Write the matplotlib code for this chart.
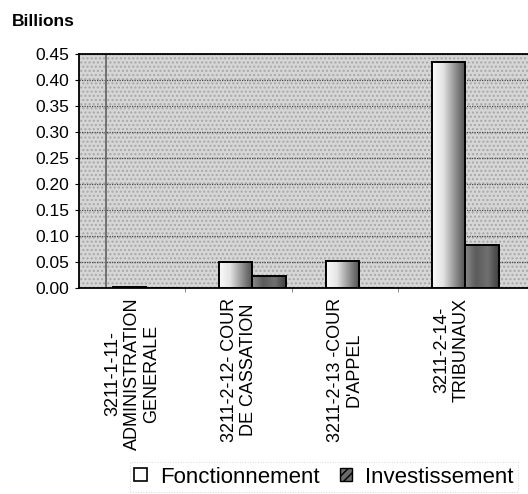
import matplotlib
matplotlib.use("Agg")
import matplotlib.pyplot as plt
import numpy as np
from matplotlib.colors import LinearSegmentedColormap
from matplotlib.patches import Patch

plt.rcParams["font.family"] = ["Liberation Sans", "DejaVu Sans"]

# ----- data (billions) -----
categories = [
    "3211-1-11-\nADMINISTRATION\nGENERALE",
    "3211-2-12- COUR\nDE CASSATION",
    "3211-2-13 -COUR\nD'APPEL",
    "3211-2-14-\nTRIBUNAUX",
]
fonctionnement = [0.002, 0.050, 0.052, 0.435]
investissement = [0.0, 0.023, 0.0, 0.083]
yticks = [0.00, 0.05, 0.10, 0.15, 0.20, 0.25, 0.30, 0.35, 0.40, 0.45]

W, H = 528, 494
fig = plt.figure(figsize=(W / 100, H / 100), dpi=100)
ax = fig.add_axes([79 / W, (H - 288) / H, (W - 79) / W, (288 - 54) / H])

# dotted grey plot background
ax.set_facecolor("#d6d6d6")
ax.patch.set_hatch("....")
ax.patch.set_edgecolor("#a8a8a8")
ax.patch.set_linewidth(0)

x = np.arange(len(categories))
f_cmap = LinearSegmentedColormap.from_list("f", ["#fafafa", "#e4e4e4", "#9a9a9a", "#555555"])
i_cmap = LinearSegmentedColormap.from_list("i", ["#8c8c8c", "#5c5c5c", "#707070", "#3c3c3c"])

bars_i = ax.bar(x + 0.12, investissement, width=0.33, align="edge",
                facecolor="none", edgecolor="black", linewidth=1.4, zorder=3)
bars_f = ax.bar(x - 0.18, fonctionnement, width=0.31, align="edge",
                facecolor="none", edgecolor="black", linewidth=1.4, zorder=5)

grad = np.linspace(0, 1, 64).reshape(1, -1)
for bars, cmap, z in [(bars_i, i_cmap, 2.9), (bars_f, f_cmap, 4.9)]:
    for rect in bars:
        h = rect.get_height()
        if h <= 0:
            continue
        x0 = rect.get_x()
        im = ax.imshow(grad, extent=[x0, x0 + rect.get_width(), 0, h],
                       aspect="auto", cmap=cmap, zorder=z, interpolation="bilinear")
        im.set_clip_path(rect)

# faint vertical fold line from the scan
ax.axvline(-0.25, color="#6a6a6a", linewidth=1.3, zorder=1)

ax.set_xlim(-0.5, 3.72)
ax.set_ylim(0, 0.45)
ax.set_yticks(yticks)
ax.set_yticklabels([f"{v:.2f}" for v in yticks], fontsize=12.5)
ax.yaxis.grid(True, color="#4a4a4a", linestyle=(0, (1, 1)), linewidth=0.9)
ax.set_axisbelow(True)

ax.set_xticks(x)
ax.set_xticklabels(categories, rotation=90, fontsize=13, va="top",
                   ha="center", multialignment="center", linespacing=1.15)
ax.set_xticks(x[1:] - 0.5, minor=True)
ax.tick_params(axis="x", which="major", length=0, pad=7)
ax.tick_params(axis="x", which="minor", length=3, color="#777")
ax.tick_params(axis="y", length=3, pad=4)

for s in ["left", "bottom", "top"]:
    ax.spines[s].set_linewidth(1.3)
    ax.spines[s].set_color("black")
ax.spines["right"].set_visible(False)

fig.text(12 / W, 1 - 22 / H, "Billions", fontsize=12.5, fontweight="bold",
         va="center", ha="left")

handles = [
    Patch(facecolor="white", edgecolor="black", linewidth=1.2, label="Fonctionnement"),
    Patch(facecolor="#6a6a6a", edgecolor="black", linewidth=1.0, hatch="////",
          label="Investissement"),
]
leg = fig.legend(handles=handles, loc="center", bbox_to_anchor=(324 / W, 1 - 477 / H),
                 ncol=2, fontsize=16, frameon=True, handlelength=0.55,
                 handleheight=0.55, handletextpad=0.6, columnspacing=0.9,
                 borderpad=0.2, fancybox=False)
leg.get_frame().set_edgecolor("#cccccc")
leg.get_frame().set_linestyle(":")
leg.get_frame().set_linewidth(0.7)

fig.savefig("out.png", dpi=100)
